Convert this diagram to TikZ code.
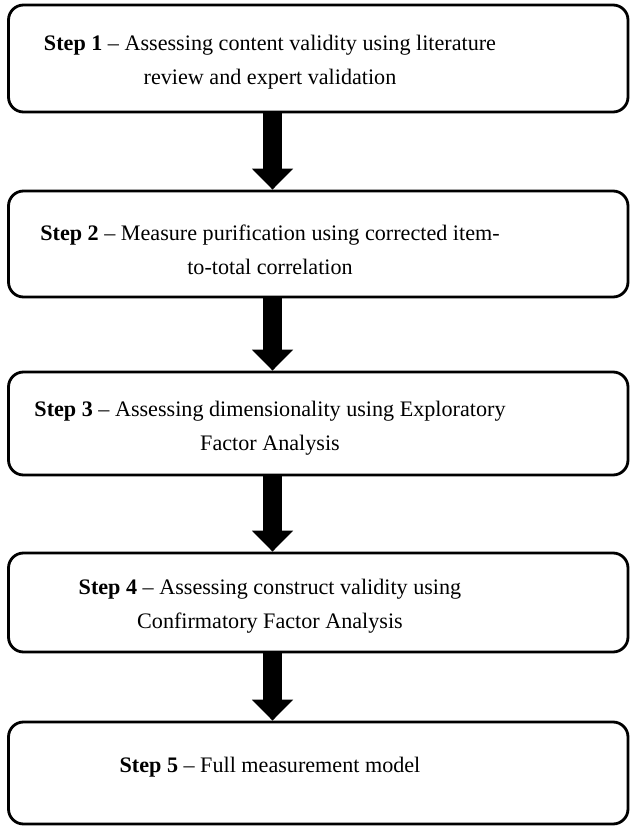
\documentclass[tikz,border=0pt]{standalone}
\usepackage{fontspec}
\setmainfont{Liberation Serif}
\usepackage{tikz}
\usetikzlibrary{calc,arrows.meta}
\tikzset{
  stepbox/.style={draw,line width=1.6pt,rounded corners=0.3cm,minimum width=12.39cm,inner sep=0pt},
  steptext/.style={align=center,inner sep=0pt,xshift=-0.965cm,font=\fontsize{12.6}{19.3}\selectfont},
  bigarrow/.style={line width=0.38cm,-{Triangle[width=0.8cm,length=0.42cm]}}
}

\begin{document}
\begin{tikzpicture}
\useasboundingbox (0,0) rectangle (12.6,-16.54);
\node[stepbox,minimum height=2.14cm,label={[steptext,yshift=-0.07cm]center:{\textbf{Step 1} -- Assessing content validity using literature\\review and expert validation}}] (s1) at (6.365,-1.17) {};
\node[stepbox,minimum height=2.12cm,label={[steptext,yshift=-0.11cm]center:{\textbf{Step 2} -- Measure purification using corrected item-\\to-total correlation}}] (s2) at (6.365,-4.88) {};
\node[stepbox,minimum height=2.06cm,label={[steptext,yshift=-0.10cm]center:{\textbf{Step 3} -- Assessing dimensionality using Exploratory\\Factor Analysis}}] (s3) at (6.365,-8.47) {};
\node[stepbox,minimum height=1.98cm,label={[steptext,yshift=-0.08cm]center:{\textbf{Step 4} -- Assessing construct validity using\\Confirmatory Factor Analysis}}] (s4) at (6.365,-12.05) {};
\node[stepbox,minimum height=2.04cm,label={[steptext,yshift=0.12cm]center:{\textbf{Step 5} -- Full measurement model}}] (s5) at (6.365,-15.46) {};
\draw[bigarrow] ($(s1.south)+(-0.915,0)$) -- ($(s2.north)+(-0.915,0)$);
\draw[bigarrow] ($(s2.south)+(-0.915,0)$) -- ($(s3.north)+(-0.915,0)$);
\draw[bigarrow] ($(s3.south)+(-0.915,0)$) -- ($(s4.north)+(-0.915,0)$);
\draw[bigarrow] ($(s4.south)+(-0.915,0)$) -- ($(s5.north)+(-0.915,0)$);
\end{tikzpicture}
\end{document}
